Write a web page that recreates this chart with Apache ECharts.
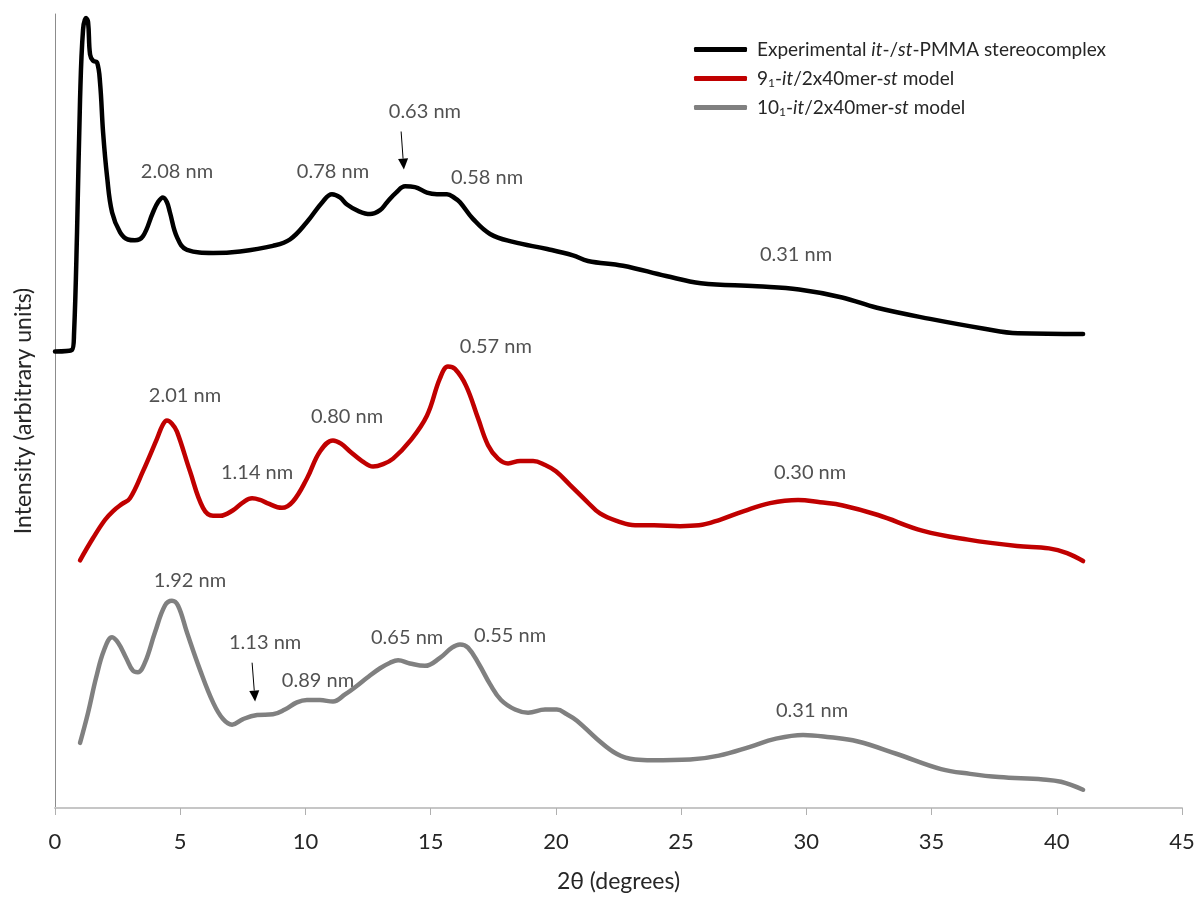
<!DOCTYPE html>
<html>
<head>
<meta charset="utf-8">
<title>PMMA stereocomplex WAXD</title>
<script src="https://cdn.jsdelivr.net/npm/echarts@6/dist/echarts.min.js"></script>
<style>
  html, body { margin: 0; padding: 0; background: #fff; }
  #chart { width: 1202px; height: 898px; }
</style>
</head>
<body>
<div id="chart"></div>
<script>
// 2theta (degrees) / intensity
var expX = [0, 0.68, 0.76, 0.88, 1.0, 1.12, 1.24, 1.32, 1.4, 1.52, 1.68, 1.8, 1.92, 2.08, 2.28, 2.6, 2.91, 3.19, 3.51, 3.91, 4.11, 4.31, 4.47, 4.59, 4.87, 5.27, 6.31, 7.39, 8.7, 9.38, 10.06, 10.7, 11.06, 11.38, 11.66, 12.1, 12.58, 12.98, 13.26, 13.62, 13.98, 14.37, 14.85, 15.25, 15.65, 15.97, 16.17, 16.69, 17.37, 18.29, 19.65, 20.68, 21.28, 22.68, 24.4, 25.79, 28.03, 29.71, 31.43, 32.82, 34.94, 37.05, 38.45, 41.05];
var expY = [57.5, 57.7, 59.7, 72.5, 89.2, 98.0, 99.5, 99.0, 94.9, 94.1, 93.9, 91.3, 85.1, 79.5, 75.0, 72.5, 71.6, 71.5, 72.0, 75.0, 76.3, 76.9, 76.3, 75.0, 71.9, 70.3, 69.9, 70.1, 70.8, 71.6, 73.8, 76.4, 77.3, 76.9, 76.0, 75.2, 74.8, 75.3, 76.3, 77.5, 78.3, 78.2, 77.5, 77.3, 77.3, 76.8, 76.3, 74.2, 72.3, 71.3, 70.4, 69.6, 68.9, 68.3, 67.0, 66.1, 65.7, 65.3, 64.3, 63.0, 61.6, 60.4, 59.8, 59.7];

var m9X = [1.0, 1.52, 2.0, 2.32, 2.68, 2.99, 3.51, 4.07, 4.31, 4.47, 4.67, 4.87, 5.39, 5.91, 6.31, 6.59, 7.11, 7.51, 7.87, 8.19, 8.47, 9.06, 9.5, 10.06, 10.58, 11.1, 11.42, 11.78, 12.26, 12.7, 13.1, 13.5, 14.17, 14.85, 15.37, 15.69, 15.97, 16.41, 16.89, 17.29, 17.69, 18.09, 18.57, 19.09, 19.57, 20.0, 20.56, 21.24, 21.76, 22.48, 23.16, 23.92, 24.96, 25.71, 26.55, 27.51, 28.55, 29.67, 30.55, 31.46, 32.86, 34.66, 36.46, 38.41, 39.69, 40.41, 41.05];
var m9Y = [31.2, 34.0, 36.3, 37.4, 38.3, 39.0, 42.4, 46.5, 48.3, 48.8, 48.4, 47.4, 42.4, 37.8, 36.8, 36.8, 37.5, 38.5, 39.0, 38.8, 38.4, 37.8, 38.6, 41.5, 44.9, 46.3, 45.9, 44.9, 43.7, 43.0, 43.3, 44.0, 46.2, 49.4, 54.1, 55.6, 55.3, 53.2, 49.1, 45.7, 44.0, 43.4, 43.7, 43.7, 43.2, 42.4, 40.7, 38.6, 37.1, 36.1, 35.6, 35.6, 35.5, 35.6, 36.3, 37.4, 38.4, 38.8, 38.5, 38.1, 36.9, 34.9, 33.8, 33.0, 32.7, 32.1, 31.1];

var m10X = [1.0, 1.32, 1.64, 1.96, 2.28, 2.52, 2.84, 3.11, 3.31, 3.59, 3.99, 4.39, 4.67, 4.91, 5.27, 5.79, 6.31, 6.71, 7.07, 7.51, 8.07, 8.7, 9.18, 9.66, 10.06, 10.58, 11.1, 11.58, 12.06, 12.46, 12.98, 13.38, 13.7, 14.17, 14.77, 15.37, 15.85, 16.17, 16.49, 16.93, 17.37, 17.81, 18.37, 18.89, 19.57, 20.04, 20.44, 20.84, 21.64, 22.44, 23.16, 23.84, 25.36, 26.51, 27.75, 28.75, 29.87, 30.95, 32.02, 33.62, 35.38, 36.54, 37.69, 39.45, 40.17, 41.05];
var m10Y = [8.2, 12.0, 16.4, 19.9, 21.5, 20.8, 18.9, 17.3, 17.1, 18.3, 22.1, 25.5, 26.1, 25.5, 22.1, 17.4, 13.3, 11.2, 10.5, 11.2, 11.7, 11.8, 12.4, 13.3, 13.6, 13.6, 13.4, 14.3, 15.4, 16.4, 17.6, 18.3, 18.6, 18.2, 17.9, 18.9, 20.2, 20.6, 20.2, 18.1, 15.6, 13.6, 12.4, 12.0, 12.4, 12.4, 11.8, 11.0, 8.7, 6.8, 6.1, 6.0, 6.1, 6.6, 7.7, 8.7, 9.2, 8.9, 8.4, 6.8, 4.9, 4.3, 3.9, 3.6, 3.3, 2.3];

var seriesNames = ['exp', 'm9', 'm10'];
var xTicks = [0, 5, 10, 15, 20, 25, 30, 35, 40, 45];

// d-spacing labels: [x, y, text]
var peakLabels = [
    [4.87, 80.2, '2.08 nm'],
    [11.1, 80.1, '0.78 nm'],
    [14.77, 87.7, '0.63 nm'],
    [17.25, 79.4, '0.58 nm'],
    [29.59, 69.7, '0.31 nm'],
    [17.6, 58.1, '0.57 nm'],
    [5.19, 51.9, '2.01 nm'],
    [8.07, 42.2, '1.14 nm'],
    [11.66, 49.3, '0.80 nm'],
    [30.15, 42.2, '0.30 nm'],
    [5.39, 28.7, '1.92 nm'],
    [8.39, 20.8, '1.13 nm'],
    [10.5, 16.1, '0.89 nm'],
    [14.06, 21.5, '0.65 nm'],
    [18.17, 21.7, '0.55 nm'],
    [30.23, 12.3, '0.31 nm']
];
// arrows: [x0, y0, x1, y1]
var arrows = [
    [13.82, 85.2, 13.93, 80.4],
    [7.87, 18.3, 7.99, 13.4]
];

function zip(xs, ys) {
    return xs.map(function (x, i) { return [x, ys[i]]; });
}

var legendText = {
    exp: 'Experimental {i|it}-/{i|st}-PMMA stereocomplex',
    m9: '9{sub|1}-{i|it}/2x40mer-{i|st} model',
    m10: '10{sub|1}-{i|it}/2x40mer-{i|st} model'
};

var font = 'Lato, "Open Sans", sans-serif';
var chart = echarts.init(document.getElementById('chart'));

function lineSeries(name, data, color) {
    return {
        name: name,
        type: 'line',
        data: data,
        showSymbol: false,
        smooth: 0.4,
        lineStyle: { color: color, width: 4.5, cap: 'round', join: 'round' },
        itemStyle: { color: color }
    };
}

// line with a filled head, both ends taken from the axes
function renderArrow(params, api) {
    var p0 = api.coord([api.value(0), api.value(1)]);
    var p1 = api.coord([api.value(2), api.value(3)]);
    var dx = p1[0] - p0[0], dy = p1[1] - p0[1];
    var len = Math.sqrt(dx * dx + dy * dy);
    var ux = dx / len, uy = dy / len;
    var head = 11, half = 5;
    var bx = p1[0] - ux * head, by = p1[1] - uy * head;
    return {
        type: 'group',
        children: [
            {
                type: 'line',
                shape: { x1: p0[0], y1: p0[1], x2: bx, y2: by },
                style: { stroke: '#000', lineWidth: 1 }
            },
            {
                type: 'polygon',
                shape: { points: [[p1[0], p1[1]], [bx - uy * half, by + ux * half], [bx + uy * half, by - ux * half]] },
                style: { fill: '#000' }
            }
        ]
    };
}

var option = {
    animation: false,
    backgroundColor: '#fff',
    textStyle: { fontFamily: font },
    grid: { left: 55, right: 20, top: 14, bottom: 87 },
    legend: {
        orient: 'vertical',
        left: 689,
        top: 33,
        itemWidth: 53,
        itemHeight: 5,
        itemGap: 6,
        icon: 'roundRect',
        data: seriesNames,
        formatter: function (n) { return legendText[n]; },
        textStyle: {
            fontFamily: font,
            fontSize: 19,
            color: '#262626',
            lineHeight: 23,
            padding: [0, 0, 0, 5],
            rich: {
                i: { fontFamily: font, fontSize: 19, fontStyle: 'italic', color: '#262626', lineHeight: 23 },
                sub: { fontFamily: font, fontSize: 12, color: '#262626', lineHeight: 23, padding: [9, 0, 0, 0] }
            }
        }
    },
    xAxis: {
        type: 'value',
        min: 0,
        max: 45,
        interval: 5,
        name: '2θ (degrees)',
        nameLocation: 'middle',
        nameGap: 62,
        nameTextStyle: { fontFamily: font, fontSize: 23, color: '#262626' },
        axisLine: { show: true, lineStyle: { color: '#c6c6c6', width: 2 } },
        axisTick: { show: true, length: 7, lineStyle: { color: '#b0b0b0', width: 1 } },
        axisLabel: {
            margin: 23,
            fontSize: 22,
            color: '#262626',
            fontFamily: font,
            formatter: function (v) { return xTicks.indexOf(v) >= 0 ? String(v) : ''; }
        },
        splitLine: { show: false }
    },
    yAxis: {
        type: 'value',
        min: 0,
        max: 100,
        name: 'Intensity (arbitrary units)',
        nameLocation: 'middle',
        nameRotate: 90,
        nameGap: 20,
        nameTextStyle: { fontFamily: font, fontSize: 23, color: '#262626' },
        axisLine: { show: true, lineStyle: { color: '#8c8c8c', width: 1 } },
        axisTick: { show: false },
        axisLabel: { show: false },
        splitLine: { show: false }
    },
    series: [
        lineSeries('exp', zip(expX, expY), '#000000'),
        lineSeries('m9', zip(m9X, m9Y), '#c00000'),
        lineSeries('m10', zip(m10X, m10Y), '#808080'),
        {
            name: 'labels',
            type: 'scatter',
            silent: true,
            symbolSize: 1,
            itemStyle: { color: 'rgba(0,0,0,0)' },
            data: peakLabels,
            label: {
                show: true,
                position: 'inside',
                fontFamily: font,
                fontSize: 20,
                color: '#262626',
                formatter: function (p) { return p.data[2]; }
            }
        },
        {
            name: 'arrows',
            type: 'custom',
            silent: true,
            renderItem: renderArrow,
            encode: { x: [0, 2], y: [1, 3] },
            data: arrows
        }
    ]
};

chart.setOption(option);
</script>
</body>
</html>
